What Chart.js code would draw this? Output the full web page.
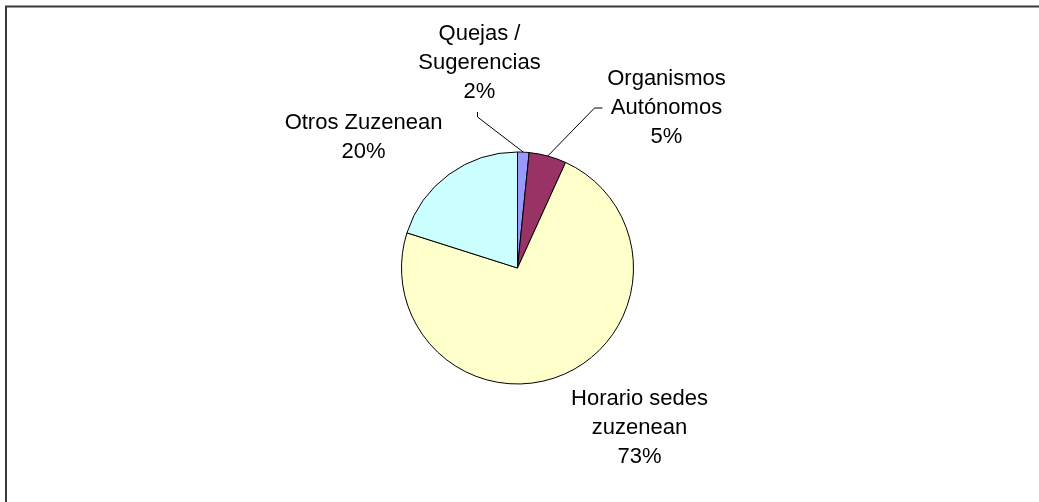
<!DOCTYPE html>
<html>
<head>
<meta charset="utf-8">
<script src="https://cdn.jsdelivr.net/npm/chart.js@4/dist/chart.umd.min.js"></script>
<style>
    html, body { margin: 0; padding: 0; background: #fff; }
    #wrap { position: relative; width: 1039px; height: 502px; }
</style>
</head>
<body>
<div id="wrap"><canvas id="pieChart" width="1039" height="502"></canvas></div>
<script>
// Data
const categories = ['Quejas / Sugerencias', 'Organismos Autónomos', 'Horario sedes zuzenean', 'Otros Zuzenean'];
const labelLines = [['Quejas /', 'Sugerencias'], ['Organismos', 'Autónomos'], ['Horario sedes', 'zuzenean'], ['Otros Zuzenean']];
const shares = [1.6, 5.2, 73.1, 20.1];
const sliceColors = ['#9999FF', '#993366', '#FFFFCC', '#CCFFFF'];

// Label placement (offset of the text block's centre from the pie centre) and leader flag
const labelOffsets = [[-38, -205], [149, -160], [122, 160], [-154, -131]];
const hasLeader = [true, true, false, false];

const FONT = '22px "Liberation Sans", Arial, sans-serif';
const LINE_H = 29;

/**
 * Frame lines (top and left edges of the chart border)
 */
const framePlugin = {
    id: 'frame',
    beforeDraw(chart) {
        const c = chart.ctx;
        c.save();
        c.fillStyle = '#fff';
        c.fillRect(0, 0, chart.width, chart.height);
        c.strokeStyle = '#3a3a3a';
        c.lineWidth = 2;
        c.beginPath();
        c.moveTo(6, chart.height);
        c.lineTo(6, 6.5);
        c.lineTo(chart.width, 6.5);
        c.stroke();
        c.restore();
    }
};

/**
 * Outside labels with leader lines
 */
const outsideLabels = {
    id: 'outsideLabels',
    afterDatasetsDraw(chart) {
        const c = chart.ctx;
        const meta = chart.getDatasetMeta(0);
        const total = shares.reduce((a, b) => a + b, 0);
        c.save();
        c.font = FONT;
        c.fillStyle = '#000';
        c.textAlign = 'center';
        c.textBaseline = 'middle';
        meta.data.forEach((arc, i) => {
            const lines = labelLines[i].concat([Math.round(shares[i] / total * 100) + '%']);
            const cx = arc.x + labelOffsets[i][0];
            const cy = arc.y + labelOffsets[i][1];
            const top = cy - (lines.length - 1) * LINE_H / 2;
            lines.forEach((t, k) => c.fillText(t, cx, top + k * LINE_H));

            if (hasLeader[i]) {
                const mid = (arc.startAngle + arc.endAngle) / 2;
                const ex = arc.x + Math.cos(mid) * arc.outerRadius;
                const ey = arc.y + Math.sin(mid) * arc.outerRadius;
                c.strokeStyle = '#000';
                c.lineWidth = 1;
                c.beginPath();
                if (i === 0) {
                    // below the text block
                    const sy = top + (lines.length - 1) * LINE_H + 20;
                    c.moveTo(cx - 2, sy);
                    c.lineTo(cx - 2, sy + 5);
                } else {
                    // left of the middle line
                    const sy = top + LINE_H;
                    c.moveTo(cx - 64, sy);
                    c.lineTo(cx - 72, sy);
                }
                c.lineTo(ex, ey);
                c.stroke();
            }
        });
        c.restore();
    }
};

new Chart(document.getElementById('pieChart'), {
    type: 'pie',
    data: {
        labels: categories,
        datasets: [{
            data: shares,
            backgroundColor: sliceColors,
            borderColor: '#000',
            borderWidth: 1
        }]
    },
    options: {
        responsive: false,
        animation: false,
        radius: 116,
        layout: {
            padding: { left: 401, right: 405, top: 152, bottom: 118 }
        },
        plugins: {
            legend: { display: false },
            tooltip: { enabled: false }
        }
    },
    plugins: [framePlugin, outsideLabels]
});
</script>
</body>
</html>
